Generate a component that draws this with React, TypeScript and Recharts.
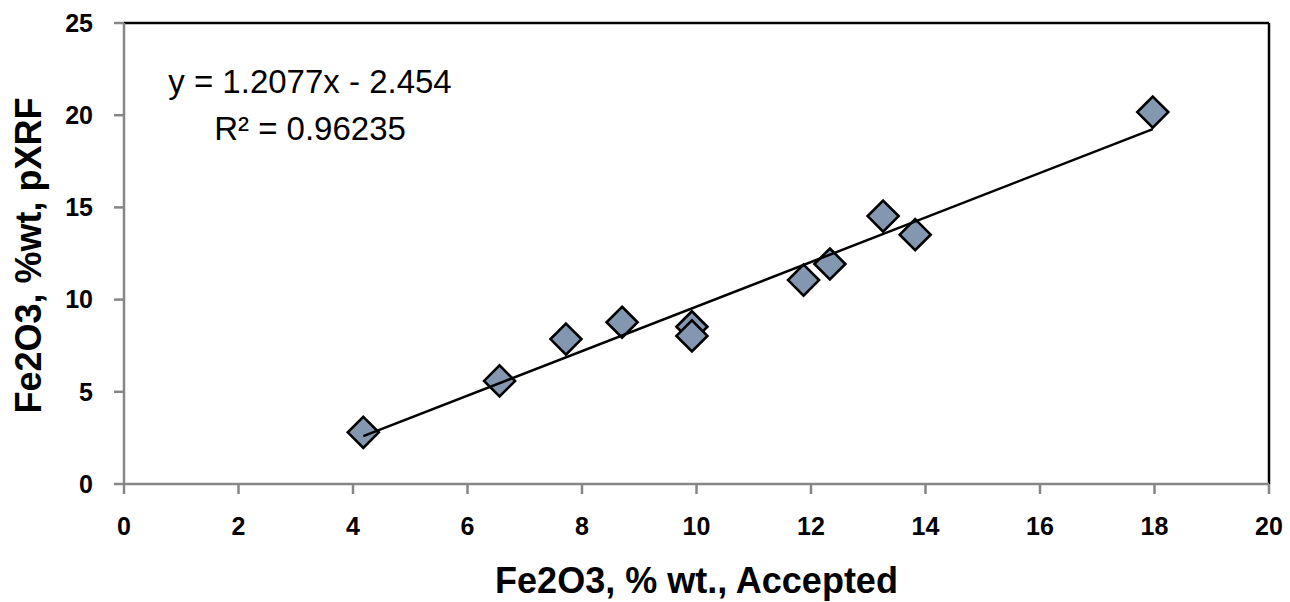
import React from 'react';
import {
  ScatterChart,
  Scatter,
  XAxis,
  YAxis,
  ReferenceLine,
  Customized,
} from 'recharts';

// ---- Data ----
const acceptedFe2O3 = [4.18, 6.56, 7.72, 8.7, 9.92, 9.92, 11.87, 12.33, 13.26, 13.82, 17.97];
const pxrfFe2O3 = [2.8, 5.59, 7.86, 8.77, 8.53, 8.03, 11.06, 11.93, 14.53, 13.52, 20.17];

const xTicks = [0, 2, 4, 6, 8, 10, 12, 14, 16, 18, 20];
const yTicks = [0, 5, 10, 15, 20, 25];

const trendSlope = 1.2077;
const trendIntercept = -2.454;
const equationText = 'y = 1.2077x - 2.454';
const r2Text = 'R\u00B2 = 0.96235';

const xTitle = 'Fe2O3, % wt., Accepted';
const yTitle = 'Fe2O3, %wt, pXRF';

// ---- Derived tables ----
const points = acceptedFe2O3.map((x, i) => ({ x, y: pxrfFe2O3[i] }));
const xMin = Math.min(...acceptedFe2O3);
const xMax = Math.max(...acceptedFe2O3);
const trendPoints = [xMin, xMax].map((x) => ({ x, y: trendSlope * x + trendIntercept }));

const FONT = '"Liberation Sans", Arial, sans-serif';
const AXIS_GRAY = '#868686';

const Diamond = (props: any) => {
  const { cx, cy } = props;
  if (cx == null || cy == null) return <g />;
  const r = 15.5;
  return (
    <polygon
      points={`${cx},${cy - r} ${cx + r},${cy} ${cx},${cy + r} ${cx - r},${cy}`}
      fill="#8497b0"
      stroke="#000"
      strokeWidth={2.6}
      strokeLinejoin="miter"
    />
  );
};

const NoShape = () => <g />;

const Equation = () => (
  <g>
    <text x={310} y={93} textAnchor="middle" fontFamily={FONT} fontSize={33} fill="#000">
      {equationText}
    </text>
    <text x={310} y={140} textAnchor="middle" fontFamily={FONT} fontSize={33} fill="#000">
      {r2Text}
    </text>
  </g>
);

const XTitle = (props: any) => {
  const vb = props.viewBox || {};
  return (
    <text
      x={vb.x + vb.width / 2}
      y={vb.y + 109}
      textAnchor="middle"
      fontFamily={FONT}
      fontSize={36}
      fontWeight="bold"
      fill="#000"
    >
      {xTitle}
    </text>
  );
};

const YTitle = (props: any) => {
  const vb = props.viewBox || {};
  const cx = 41;
  const cy = vb.y + vb.height / 2 + 2;
  return (
    <text
      x={cx}
      y={cy}
      transform={`rotate(-90, ${cx}, ${cy})`}
      textAnchor="middle"
      fontFamily={FONT}
      fontSize={36}
      fontWeight="bold"
      fill="#000"
    >
      {yTitle}
    </text>
  );
};

export default function App() {
  return (
    <div style={{ position: 'absolute', left: 0, top: 0, width: 1290, height: 602, background: '#fff' }}>
      <ScatterChart width={1290} height={602} margin={{ top: 23, right: 21, bottom: 0, left: 0 }}>
        <XAxis
          type="number"
          dataKey="x"
          domain={[0, 20]}
          ticks={xTicks}
          interval={0}
          allowDataOverflow
          height={118}
          tickSize={10}
          tickMargin={23}
          axisLine={{ stroke: AXIS_GRAY, strokeWidth: 2.5 }}
          tickLine={{ stroke: AXIS_GRAY, strokeWidth: 2.5 }}
          tick={{ fill: '#000', fontSize: 25, fontWeight: 'bold', fontFamily: FONT }}
          label={XTitle}
        />
        <YAxis
          type="number"
          dataKey="y"
          domain={[0, 25]}
          ticks={yTicks}
          interval={0}
          allowDataOverflow
          width={124}
          tickSize={10}
          tickMargin={21}
          axisLine={{ stroke: AXIS_GRAY, strokeWidth: 2.5 }}
          tickLine={{ stroke: AXIS_GRAY, strokeWidth: 2.5 }}
          tick={{ fill: '#000', fontSize: 25, fontWeight: 'bold', fontFamily: FONT }}
          label={YTitle}
        />
        <ReferenceLine y={25} stroke="#000" strokeWidth={2.5} />
        <ReferenceLine x={20} stroke="#000" strokeWidth={2.5} />
        <Scatter data={points} shape={Diamond} isAnimationActive={false} />
        <Scatter
          data={trendPoints}
          shape={NoShape}
          line={{ stroke: '#000', strokeWidth: 2.5 }}
          lineType="joint"
          isAnimationActive={false}
        />
        <Customized component={Equation} />
      </ScatterChart>
    </div>
  );
}
